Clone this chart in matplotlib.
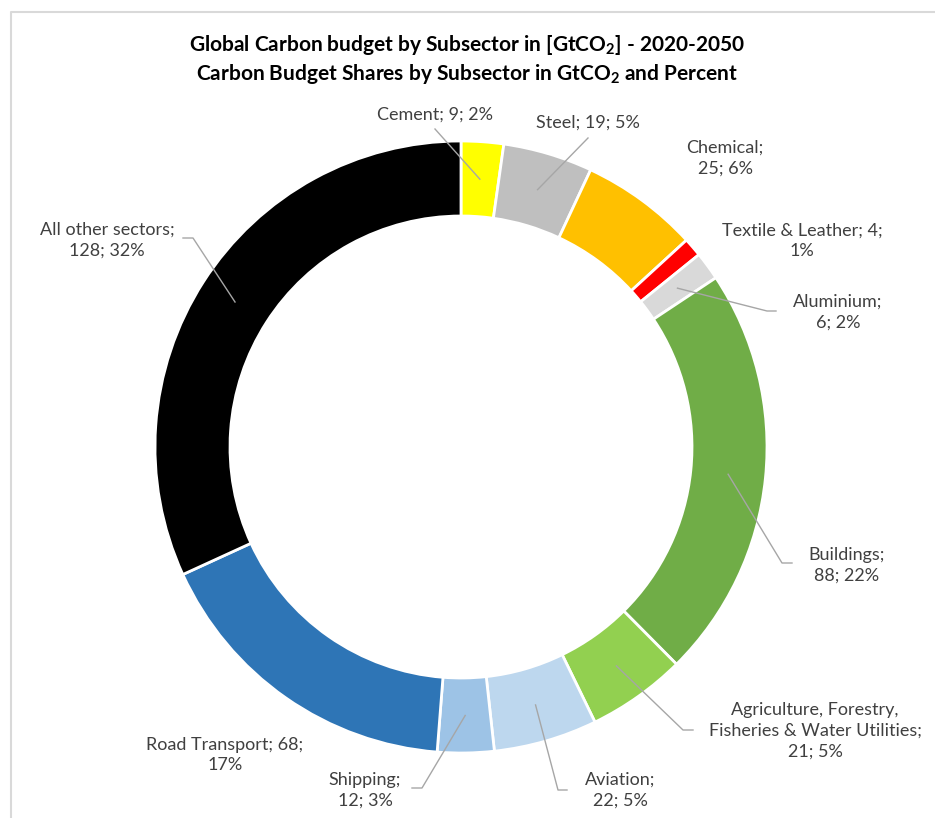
import matplotlib.pyplot as plt
import numpy as np

plt.rcParams['font.family'] = ['Lato', 'DejaVu Sans']
plt.rcParams['mathtext.fontset'] = 'custom'
plt.rcParams['mathtext.rm'] = 'Lato'
plt.rcParams['mathtext.bf'] = 'Lato:bold'

# Carbon budget 2020-2050 by subsector, GtCO2 (clockwise from 12 o'clock)
SECTORS = ["Cement", "Steel", "Chemical", "Textile & Leather", "Aluminium",
           "Buildings", "Agriculture, Forestry,\nFisheries & Water Utilities",
           "Aviation", "Shipping", "Road Transport", "All other sectors"]
BUDGET = [9, 19, 25, 4, 6, 88, 21, 22, 12, 68, 128]
PERCENT = [2, 5, 6, 1, 2, 22, 5, 5, 3, 17, 32]
COLORS = ["#FFFF00", "#BFBFBF", "#FFC000", "#FF0000", "#D9D9D9",
          "#70AD47", "#92D050", "#BDD7EE", "#9DC3E6", "#2E75B6", "#000000"]

W, H = 935, 818
fig = plt.figure(figsize=(W / 100, H / 100), dpi=100)
ax = fig.add_axes([0, 0, 1, 1])


def py(y):
    # image row -> data y
    return H - y


cx, cy = 461, 447
r_out, ring = 306, 75
wedges, _ = ax.pie(BUDGET, colors=COLORS, startangle=90, counterclock=False,
                   radius=r_out, center=(cx, py(cy)), frame=True,
                   wedgeprops=dict(width=ring, edgecolor="white", linewidth=2))
ax.set_xlim(0, W)
ax.set_ylim(0, H)
ax.axis("off")

# label text centre, and leader (end point next to label, elbow point)
layout = [
    ((435, 115), ((435, 129), (435, 129))),
    ((588, 123), ((588, 138), (588, 138))),
    ((725, 158), None),
    ((802, 241), None),
    ((838, 312), ((776, 311), (767, 311))),
    ((847, 565), ((792, 563), (782, 563))),
    ((815, 731), ((693, 730), (683, 730))),
    ((620, 790), ((567, 790), (558, 790))),
    ((365, 790), ((412, 788), (422, 788))),
    ((225, 755), None),
    ((107, 240), ((183, 238), (193, 238))),
]
one_line = {0, 1}
wrap_after_value = {3, 9}

for i, w in enumerate(wedges):
    name = SECTORS[i]
    if i in one_line:
        txt = f"{name}; {BUDGET[i]}; {PERCENT[i]}%"
    elif i in wrap_after_value:
        txt = f"{name}; {BUDGET[i]};\n{PERCENT[i]}%"
    else:
        txt = f"{name};\n{BUDGET[i]}; {PERCENT[i]}%"
    (tx, ty), lead = layout[i]
    ax.text(tx, py(ty), txt, ha="center", va="center", fontsize=13,
            color="#404040", linespacing=1.35)
    if lead is not None:
        ang = np.deg2rad((w.theta1 + w.theta2) / 2)
        rm = r_out - ring / 2
        ax_, ay_ = cx + rm * np.cos(ang), py(cy) + rm * np.sin(ang)
        (ex, ey), (bx, by) = lead
        ax.plot([ex, bx, ax_], [py(ey), py(by), ay_], color="#A6A6A6", lw=1)

ax.text(467, py(45), r"Global Carbon budget by Subsector in [GtCO$_\mathbf{2}$] - 2020-2050",
        ha="center", va="center", fontsize=15, fontweight="bold", color="black")
ax.text(467, py(74), r"Carbon Budget Shares by Subsector in GtCO$_\mathbf{2}$ and Percent",
        ha="center", va="center", fontsize=15, fontweight="bold", color="black")

# chart area border (partially cropped)
ax.plot([11, 11, W + 5], [-5, py(12), py(12)], color="#D9D9D9", lw=1.5,
        clip_on=False)

fig.savefig("out.png", dpi=100)
